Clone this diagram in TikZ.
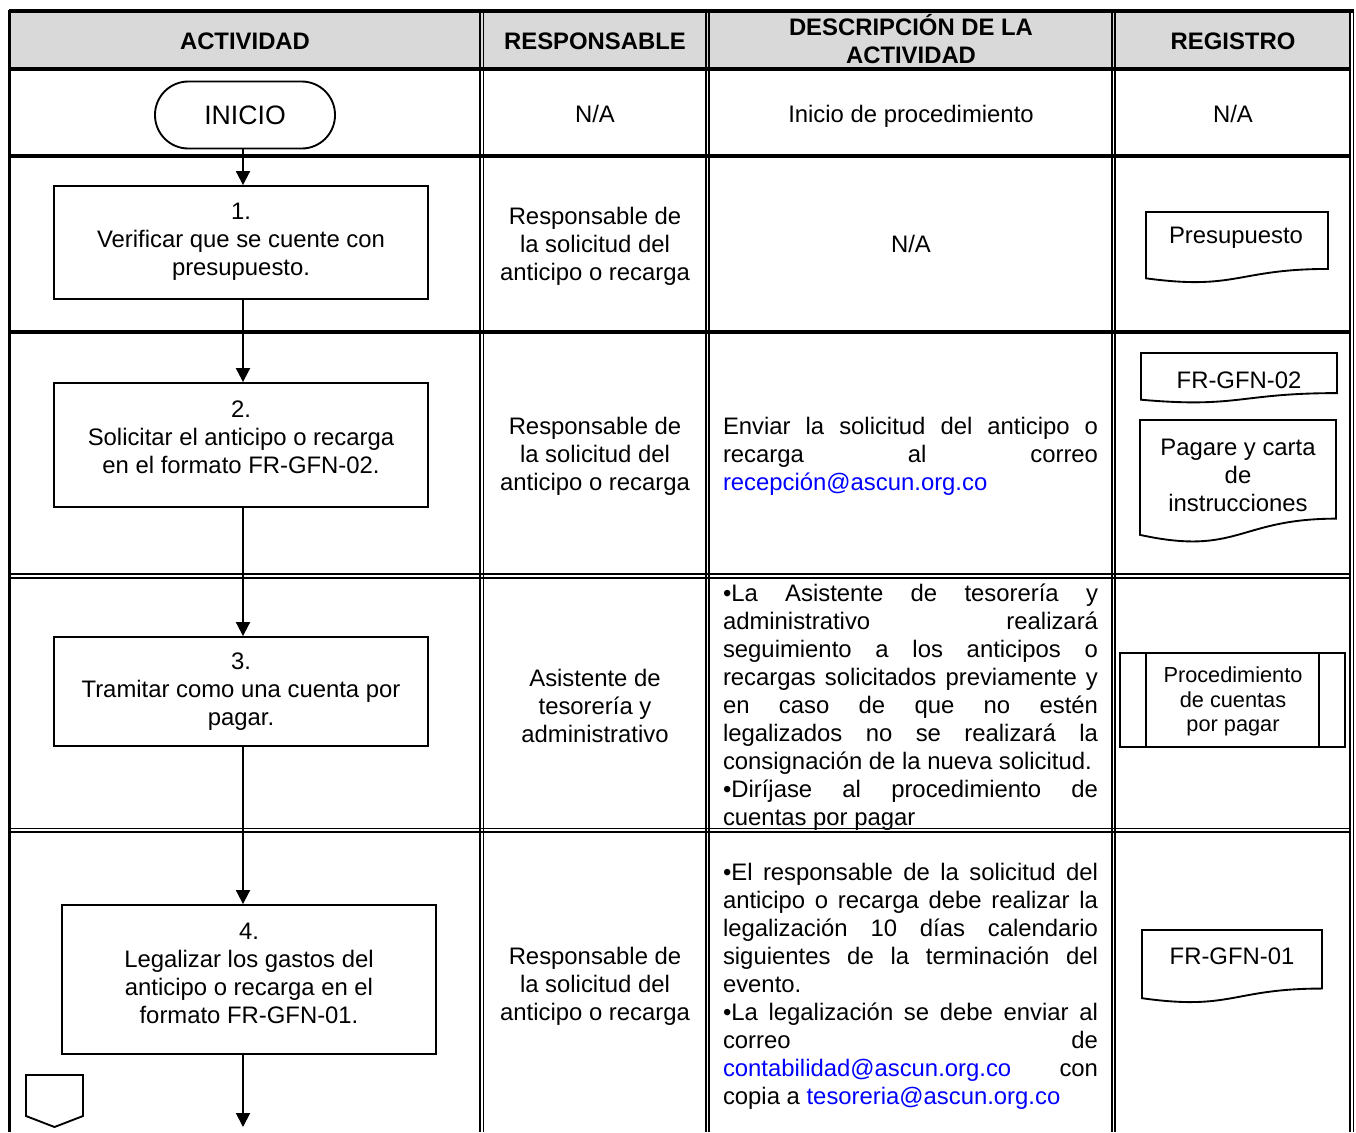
\documentclass[tikz,border=0pt]{standalone}
\usepackage{fontspec}
\setmainfont{Liberation Sans}
\usetikzlibrary{arrows.meta}
\definecolor{hdr}{HTML}{D9D9D9}
\definecolor{lnk}{RGB}{0,0,255}
\newcommand\bodyfs{\fontsize{17.9pt}{21pt}\selectfont}
\newcommand\inifs{\fontsize{20pt}{24pt}\selectfont}
\newcommand\procfs{\fontsize{16.3pt}{18.6pt}\selectfont}
\newcommand\docshape[4]{% L, R, T, h
  \draw[shapeline] (#1,#3) -- (#2,#3) -- (#2,{#3+0.802*#4})
    .. controls ({(#1+#2)/2},{#3+0.802*#4}) and ({(#1+#2)/2},{#3+1.1075*#4}) .. (#1,{#3+0.934*#4}) -- cycle;}
\begin{document}
\hyphenpenalty=10000 \exhyphenpenalty=10000 \tolerance=10000
\begin{tikzpicture}[x=0.75pt,y=-0.75pt,
  every node/.append style={font=\bodyfs, inner sep=0pt},
  thinrule/.style={line width=1.4pt},
  thickrule/.style={line width=3pt},
  shapeline/.style={line width=1.4pt},
  flowbox/.style={draw, line width=1.4pt, minimum width=280.5pt},
  celltext/.style={align=center},
  hdrtext/.style={font=\bodyfs\bfseries, align=center},
  desc/.style={text width=281.25pt, align=justify},
  arr/.style={line width=1.4pt, -{Triangle[width=10.5pt,length=10.5pt]}}
]
\useasboundingbox (0,0) rectangle (1356,1132);

% header background
\fill[hdr] (9.7,11) rectangle (1350,68.7);

% grid
\foreach \xa in {480,483.5,706.3,709.3,1112,1115}
  \draw[thinrule] (\xa,11) -- (\xa,1132);
\draw[line width=2.2pt] (9.7,9.5) -- (9.7,1132);
\draw[line width=2.2pt] (1350,9.5) -- (1350,1132);
\draw[line width=1pt] (1353.2,9.5) -- (1353.2,1132);
\draw[line width=2.5pt] (8.5,11) -- (1353.7,11);
\foreach \ya in {68.7,155.7,331.5}
  \draw[thickrule] (8.5,\ya) -- (1351,\ya);
\foreach \ya in {574.3,577.7,828.5,832}
  \draw[thinrule] (9.7,\ya) -- (1350,\ya);

% header texts
\node[hdrtext] (h1) at (245,41) {ACTIVIDAD};
\node[hdrtext] (h2) at (595,41) {RESPONSABLE};
\node[hdrtext] (h3) at (911,39.5) {DESCRIPCIÓN DE LA\\ACTIVIDAD};
\node[hdrtext] (h4) at (1233,41) {REGISTRO};

% row INICIO
\node[draw, line width=1.4pt, rounded corners=25pt, minimum width=135pt, minimum height=50.25pt, font=\inifs] (inicio) at (245,115) {INICIO};
\node (r0) at (595,114) {N/A};
\node (d0) at (911,116) {Inicio de procedimiento};
\node (g0) at (1233,114) {N/A};

% flow boxes
\coordinate (ax) at (243,0);
\node[flowbox, minimum height=84.75pt] (b1) at (241,242.5) {};
\node[celltext] (t1) at (241,241.5) {1.\\Verificar que se cuente con\\presupuesto.};
\node[flowbox, minimum height=93pt] (b2) at (241,445) {};
\node[celltext] (t2) at (241,437.5) {2.\\Solicitar el anticipo o recarga\\en el formato FR-GFN-02.};
\node[flowbox, minimum height=81.75pt] (b3) at (241,691.5) {};
\node[celltext] (t3) at (241,692) {3.\\Tramitar como una cuenta por\\pagar.};
\node[flowbox, minimum height=111.75pt] (b4) at (249,979.5) {};
\node[celltext] (t4) at (249,973) {4.\\Legalizar los gastos del\\anticipo o recarga en el\\formato FR-GFN-01.};
\coordinate (endpt) at (243,1127);

% connectors
\draw[arr] (inicio.south -| ax) -- (b1.north -| ax);
\draw[arr] (b1.south -| ax) -- (b2.north -| ax);
\draw[arr] (b2.south -| ax) -- (b3.north -| ax);
\draw[arr] (b3.south -| ax) -- (b4.north -| ax);
\draw[arr] (b4.south -| ax) -- (endpt);

% off-page connector
\draw[shapeline] (26,1075) -- (83,1075) -- (83,1116) -- (54.5,1127) -- (26,1116) -- cycle;

% responsable column
\node[celltext] (r1) at (595,246) {Responsable de\\la solicitud del\\anticipo o recarga};
\node[celltext] (r2) at (595,456) {Responsable de\\la solicitud del\\anticipo o recarga};
\node[celltext] (r3) at (595,706) {Asistente de\\tesorería y\\administrativo};
\node[celltext] (r4) at (595,986) {Responsable de\\la solicitud del\\anticipo o recarga};

% descriptions
\node (d1) at (911,244) {N/A};
\node[desc] (d2) at (910.5,456.5) {Enviar la solicitud del anticipo o\linebreak
recarga al correo\linebreak
{\color{lnk}recepción@ascun.org.co}};
\node[desc] (d3) at (910.5,707.5) {•La Asistente de tesorería y\linebreak
administrativo realizará\linebreak
seguimiento a los anticipos o\linebreak
recargas solicitados previamente y\linebreak
en caso de que no estén\linebreak
legalizados no se realizará la\linebreak
consignación de la nueva solicitud.\par
•Diríjase al procedimiento de\linebreak
cuentas por pagar};
\node[desc] (d4) at (910.5,986.5) {•El responsable de la solicitud del\linebreak
anticipo o recarga debe realizar la\linebreak
legalización 10 días calendario\linebreak
siguientes de la terminación del\linebreak
evento.\par
•La legalización se debe enviar al\linebreak
correo de\linebreak
{\color{lnk}contabilidad@ascun.org.co} con\linebreak
copia a {\color{lnk}tesoreria@ascun.org.co}};

% registro column
\docshape{1146}{1328}{212}{71}
\node (g1) at (1236,238) {Presupuesto};
\docshape{1141}{1337}{353}{50}
\node (g2a) at (1239,380) {FR-GFN-02};
\docshape{1140}{1336}{420}{123}
\node[celltext] (g2b) at (1238,475) {Pagare y carta\\de\\instrucciones};
\node[draw, line width=1.4pt, minimum width=168.75pt, minimum height=70.5pt] (proc) at (1232.5,700) {};
\draw[shapeline] ([xshift=20.25pt]proc.north west) -- ([xshift=20.25pt]proc.south west);
\draw[shapeline] ([xshift=-20.25pt]proc.north east) -- ([xshift=-20.25pt]proc.south east);
\node[celltext, font=\procfs] (g3) at (1233,701.5) {Procedimiento\\de cuentas\\por pagar};
\docshape{1142}{1322}{930}{73}
\node (g4) at (1232,956) {FR-GFN-01};
\end{tikzpicture}
\end{document}
